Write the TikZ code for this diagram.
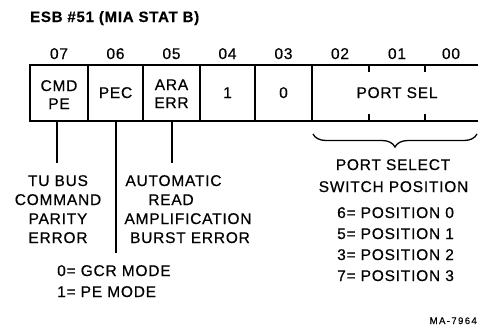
\documentclass[tikz,border=0pt]{standalone}
\usepackage{fontspec}
\setmainfont{Liberation Sans}[LetterSpace=5,FakeBold=0.5]
\usetikzlibrary{decorations.pathreplacing}
\begin{document}
\begin{tikzpicture}[x=1pt,y=-1pt,
  lbl/.style={inner sep=0pt, anchor=base, font=\fontsize{15.5}{18}\selectfont},
  lbll/.style={lbl, anchor=base west},
  outerline/.style={line width=2.2pt},
  divline/.style={line width=1.3pt},
  conn/.style={line width=1.6pt},
  bracestyle/.style={line width=1.3pt, decorate, decoration={brace, mirror, amplitude=13pt}}]
\useasboundingbox (0,0) rectangle (478,330);
% title
\node[lbl, anchor=base west, font=\fontsize{15}{18}\selectfont\bfseries] (title) at (30,22) {ESB \#51 (MIA STAT B)};
% bit numbers
\node[lbl] (n07) at (59,59) {07};
\node[lbl] (n06) at (115.5,59) {06};
\node[lbl] (n05) at (171.5,59) {05};
\node[lbl] (n04) at (227.5,59) {04};
\node[lbl] (n03) at (283.5,59) {03};
\node[lbl] (n02) at (340,59) {02};
\node[lbl] (n01) at (397,59) {01};
\node[lbl] (n00) at (451,59) {00};
% register box
\draw[outerline] (478,65) -- (30,65) -- (30,121) -- (478,121);
\foreach \xx in {88,143,200,255,312} \draw[divline] (\xx,65) -- (\xx,121);
\foreach \xx in {369,425} {\draw[divline] (\xx,65) -- (\xx,72); \draw[divline] (\xx,114) -- (\xx,121);}
% cell texts
\node[lbl] (c07a) at (59,91) {CMD};
\node[lbl] (c07b) at (59,109) {PE};
\node[lbl] (c06) at (115.5,98) {PEC};
\node[lbl] (c05a) at (171.5,90) {ARA};
\node[lbl] (c05b) at (171.5,108) {ERR};
\node[lbl] (c04) at (227.5,98) {1};
\node[lbl] (c03) at (283.5,98) {0};
\node[lbl] (cps) at (397,98) {PORT SEL};
% connectors
\coordinate (s07) at (57,121); \coordinate (e07) at (57,163);
\coordinate (s06) at (116,121); \coordinate (e06) at (116,253);
\coordinate (s05) at (172,121); \coordinate (e05) at (172,163);
\draw[conn] (s07) -- (e07);
\draw[conn] (s06) -- (e06);
\draw[conn] (s05) -- (e05);
% brace
\coordinate (bl) at (313,134); \coordinate (br) at (477,134);
\draw[bracestyle] (bl) -- (br);
% bit 07 description
\node[lbl] (d07a) at (58,186) {TU BUS};
\node[lbl] (d07b) at (58,205) {COMMAND};
\node[lbl] (d07c) at (58,224) {PARITY};
\node[lbl] (d07d) at (58,243) {ERROR};
% bit 05 description
\node[lbl] (d05a) at (173.5,186) {AUTOMATIC};
\node[lbl] (d05b) at (171,205) {READ};
\node[lbl] (d05c) at (188,224) {AMPLIFICATION};
\node[lbl] (d05d) at (190,243) {BURST ERROR};
% bit 06 description
\node[lbll] (d06a) at (57,276) {0= GCR MODE};
\node[lbll] (d06b) at (57,297) {1= PE MODE};
% port select description
\node[lbl] (dpa) at (393,170) {PORT SELECT};
\node[lbl] (dpb) at (393.5,192) {SWITCH POSITION};
\node[lbll] (dp0) at (337,218) {6= POSITION 0};
\node[lbll] (dp1) at (337,239) {5= POSITION 1};
\node[lbll] (dp2) at (337,260) {3= POSITION 2};
\node[lbll] (dp3) at (337,281) {7= POSITION 3};
% figure id
\node[inner sep=0pt, anchor=base east, font=\fontsize{9.5}{11}\selectfont\addfontfeature{LetterSpace=15}] (fig) at (477,324) {MA-7964};
\end{tikzpicture}
\end{document}
